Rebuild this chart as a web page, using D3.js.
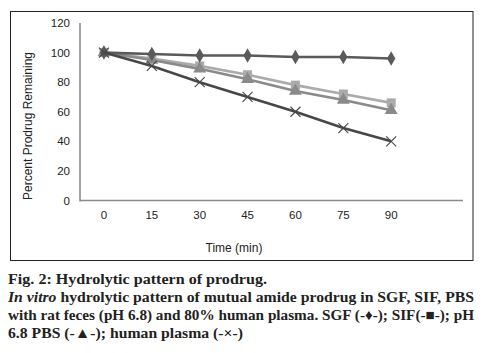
<!DOCTYPE html>
<html>
<head>
<meta charset="utf-8">
<script src="https://cdn.jsdelivr.net/npm/d3@7"></script>
<style>
  body { margin: 0; background: #fff; }
  svg { display: block; }
</style>
</head>
<body>
<div id="chart"></div>
<script>
// time points (min)
const times = [0, 15, 30, 45, 60, 75, 90];
const yTicks = [0, 20, 40, 60, 80, 100, 120];

// percent prodrug remaining
const sgf = [100, 99, 98, 98, 97, 97, 96];
const sif = [100, 96, 91, 85, 78, 72, 66];
const pbs = [100, 95, 89, 82, 74, 68, 61];
const plasma = [100, 91, 80, 70, 60, 49, 40];

const series = [
  {name: "SIF", values: sif, color: "#ababab", symbol: "square"},
  {name: "PBS", values: pbs, color: "#8a8a8a", symbol: "triangle"},
  {name: "SGF", values: sgf, color: "#5a5a5a", symbol: "diamond"},
  {name: "plasma", values: plasma, color: "#474747", symbol: "cross"}
];

const width = 482, height = 353;

const svg = d3.select("#chart")
  .append("svg")
  .attr("width", width)
  .attr("height", height);

// frame round the chart
svg.append("rect")
  .attr("x", 10.5)
  .attr("y", 11.5)
  .attr("width", 462.5)
  .attr("height", 249)
  .attr("fill", "none")
  .attr("stroke", "#222")
  .attr("stroke-width", 1);

// scales: categories sit in the middle of 8 equal slots
const x = d3.scaleLinear().domain([-7.5, 112.5]).range([80, 463]);
const y = d3.scaleLinear().domain([0, 120]).range([200.5, 23]);

const sans = "Liberation Sans, Arial, sans-serif";

// axes lines
svg.append("line")
  .attr("x1", 80).attr("x2", 80)
  .attr("y1", y(120)).attr("y2", y(0) + 1)
  .attr("stroke", "#8c8c8c").attr("stroke-width", 1.6);

svg.append("line")
  .attr("x1", 80).attr("x2", 463)
  .attr("y1", y(0)).attr("y2", y(0))
  .attr("stroke", "#8c8c8c").attr("stroke-width", 1.6);

// tick labels
svg.selectAll(".ytick")
  .data(yTicks)
  .join("text")
  .attr("class", "ytick")
  .attr("x", 70)
  .attr("y", d => y(d) + 4)
  .attr("text-anchor", "end")
  .attr("font-family", sans)
  .attr("font-size", 11.5)
  .attr("fill", "#222")
  .text(d => d);

svg.selectAll(".xtick")
  .data(times)
  .join("text")
  .attr("class", "xtick")
  .attr("x", d => x(d))
  .attr("y", 219)
  .attr("text-anchor", "middle")
  .attr("font-family", sans)
  .attr("font-size", 11.5)
  .attr("fill", "#222")
  .text(d => d);

// axis titles
svg.append("text")
  .attr("x", 234)
  .attr("y", 252)
  .attr("text-anchor", "middle")
  .attr("font-family", sans)
  .attr("font-size", 12)
  .attr("fill", "#222")
  .text("Time (min)");

svg.append("text")
  .attr("transform", "translate(32,126) rotate(-90)")
  .attr("text-anchor", "middle")
  .attr("font-family", sans)
  .attr("font-size", 12)
  .attr("fill", "#222")
  .text("Percent Prodrug Remaining");

// lines
const line = d3.line()
  .x((d, i) => x(times[i]))
  .y(d => y(d));

const symbolType = {
  square: d3.symbolSquare,
  triangle: d3.symbolTriangle,
  diamond: d3.symbolDiamond
};

series.forEach(s => {
  svg.append("path")
    .datum(s.values)
    .attr("d", line)
    .attr("fill", "none")
    .attr("stroke", s.color)
    .attr("stroke-width", 2.6);

  const pts = svg.append("g");
  if (s.symbol === "cross") {
    pts.selectAll("path")
      .data(s.values)
      .join("path")
      .attr("d", (d, i) => {
        const cx = x(times[i]), cy = y(d), r = 5;
        return `M${cx - r},${cy - r}L${cx + r},${cy + r}M${cx - r},${cy + r}L${cx + r},${cy - r}`;
      })
      .attr("stroke", s.color)
      .attr("stroke-width", 1.1)
      .attr("fill", "none");
  } else {
    const size = s.symbol === "square" ? 81 : s.symbol === "triangle" ? 72 : 60;
    pts.selectAll("path")
      .data(s.values)
      .join("path")
      .attr("transform", (d, i) => `translate(${x(times[i])},${y(d)})`)
      .attr("d", d3.symbol().type(symbolType[s.symbol]).size(size))
      .attr("fill", s.color);
  }
});

// caption
const captionFont = "Liberation Serif, Times New Roman, serif";

svg.append("text")
  .attr("x", 8)
  .attr("y", 284)
  .attr("font-family", captionFont)
  .attr("font-weight", "bold")
  .attr("font-size", 15)
  .attr("fill", "#222")
  .attr("textLength", 259)
  .attr("lengthAdjust", "spacingAndGlyphs")
  .text("Fig. 2: Hydrolytic pattern of prodrug.");

const line2 = svg.append("text")
  .attr("x", 8)
  .attr("y", 302)
  .attr("font-family", captionFont)
  .attr("font-weight", "bold")
  .attr("font-size", 15)
  .attr("fill", "#222")
  .attr("textLength", 466)
  .attr("lengthAdjust", "spacingAndGlyphs");
line2.append("tspan").attr("font-style", "italic").text("In vitro");
line2.append("tspan").text(" hydrolytic pattern of mutual amide prodrug in SGF, SIF, PBS");

svg.append("text")
  .attr("x", 8)
  .attr("y", 320)
  .attr("font-family", captionFont)
  .attr("font-weight", "bold")
  .attr("font-size", 15)
  .attr("fill", "#222")
  .attr("textLength", 466)
  .attr("lengthAdjust", "spacingAndGlyphs")
  .text("with rat feces (pH 6.8) and 80% human plasma. SGF (-\u2666-); SIF(-\u25A0-); pH");

svg.append("text")
  .attr("x", 8)
  .attr("y", 338)
  .attr("font-family", captionFont)
  .attr("font-weight", "bold")
  .attr("font-size", 15)
  .attr("fill", "#222")
  .attr("textLength", 235)
  .attr("lengthAdjust", "spacingAndGlyphs")
  .text("6.8 PBS (-\u25B2-); human plasma (-\u00D7-)");
</script>
</body>
</html>
